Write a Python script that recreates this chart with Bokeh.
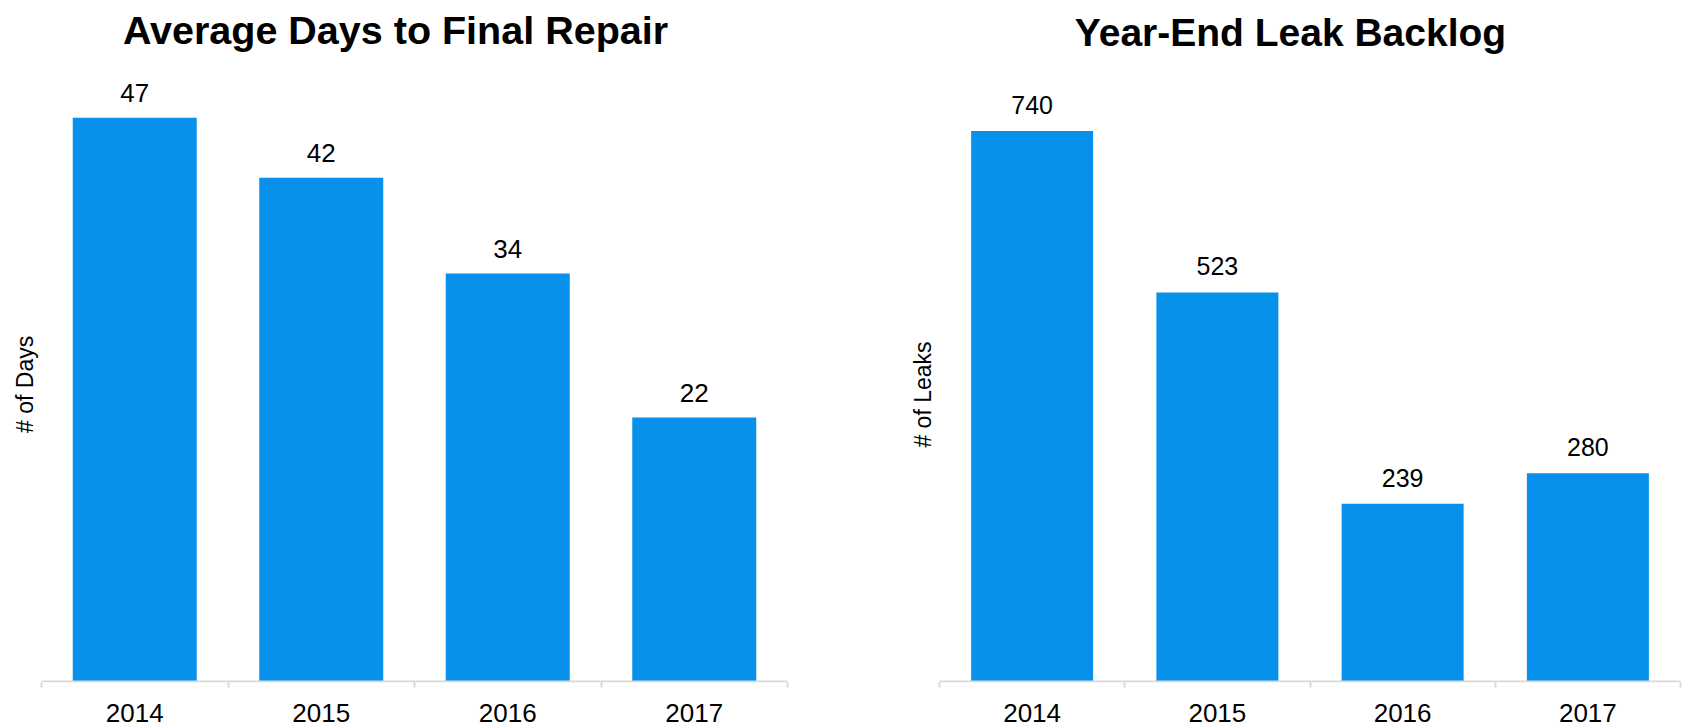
import math
from bokeh.plotting import figure
from bokeh.models import Range1d, FixedTicker, Label
from bokeh.layouts import row
from bokeh.core.properties import value
from bokeh.embed import file_html
from bokeh.resources import INLINE

# ---- data ----
years = ["2014", "2015", "2016", "2017"]
avg_days = [47, 42, 34, 22]
leak_backlog = [740, 523, 239, 280]

BAR = "#0891EA"
AXIS = "#D9D9D9"
FONT = "Liberation Sans"
W, H = 842, 727


def make_chart(vals, title, ylabel, left, right, axis_px, ref_top_px, bar_px,
               title_cx, title_cy, title_size, ylab_cx, ylab_cy, lab_gap, lab_size):
    n = len(years)
    fw = W - left - right                          # width of the category axis
    ppu = (axis_px - ref_top_px) / max(vals)      # pixels per value unit
    xpu = fw / n                                   # pixels per category
    frame_bottom = axis_px + 1
    p = figure(width=W, height=H, title=None,
               x_range=Range1d(-left / xpu, n + right / xpu),
               y_range=Range1d(-(frame_bottom - axis_px) / ppu, axis_px / ppu),
               output_backend="svg", toolbar_location=None,
               y_axis_location=None,
               min_border_left=0, min_border_right=0,
               min_border_top=0, min_border_bottom=H - frame_bottom)
    p.grid.visible = False
    p.outline_line_color = None
    p.background_fill_color = "white"
    p.border_fill_color = "white"

    xs = [i + 0.5 for i in range(n)]
    p.vbar(x=xs, top=vals, bottom=0, width=bar_px / xpu,
           fill_color=BAR, line_color=None)
    # category baseline (spans the categories only)
    p.segment(x0=[0], y0=[0], x1=[n], y1=[0], line_color=AXIS, line_width=2)
    p.text(x=xs, y=vals, text=[str(v) for v in vals],
           text_align="center", text_baseline="middle", y_offset=-lab_gap,
           text_font=value(FONT), text_font_size=lab_size, text_color="#000000")

    ax = p.xaxis[0]
    ax.ticker = FixedTicker(ticks=xs, minor_ticks=list(range(n + 1)))
    ax.major_label_overrides = {x: y for x, y in zip(xs, years)}
    ax.axis_line_color = None
    ax.major_tick_line_color = None
    ax.major_tick_out = 5
    ax.major_tick_in = 0
    ax.minor_tick_line_color = AXIS
    ax.minor_tick_line_width = 2
    ax.minor_tick_in = 0
    ax.minor_tick_out = 5
    ax.major_label_standoff = 16
    ax.major_label_text_font = FONT
    ax.major_label_text_font_size = "26px"
    ax.major_label_text_color = "#000000"

    p.add_layout(Label(x=(title_cx - left) / xpu, y=(axis_px - title_cy) / ppu,
                       text=title, text_align="center", text_baseline="middle",
                       text_font=FONT, text_font_style="bold",
                       text_font_size=title_size, text_color="#000000"))
    p.add_layout(Label(x=(ylab_cx - left) / xpu, y=(axis_px - ylab_cy) / ppu,
                       text=ylabel, angle=math.pi / 2, text_align="center",
                       text_baseline="middle", text_font=FONT,
                       text_font_size="23px", text_color="#000000"))
    return p


p1 = make_chart(avg_days, "Average Days to Final Repair", "# of Days",
                left=41, right=55, axis_px=683, ref_top_px=117.5, bar_px=124,
                title_cx=395, title_cy=30, title_size="39.5px",
                ylab_cx=24, ylab_cy=385, lab_gap=24.5, lab_size="26px")
p2 = make_chart(leak_backlog, "Year-End Leak Backlog", "# of Leaks",
                left=97, right=4, axis_px=681, ref_top_px=130.5, bar_px=122,
                title_cx=448, title_cy=32, title_size="39px",
                ylab_cx=80, ylab_cy=394, lab_gap=26, lab_size="25px")

layout = row(p1, p2)
open("out.html", "w").write(file_html(layout, INLINE))
